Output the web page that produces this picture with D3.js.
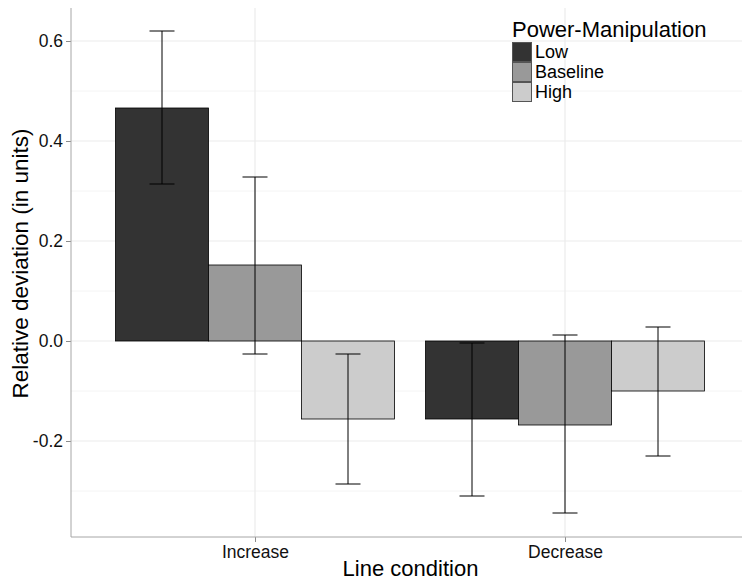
<!DOCTYPE html>
<html>
<head>
<meta charset="utf-8">
<script src="https://cdn.jsdelivr.net/npm/d3@7"></script>
<style>
  body { margin: 0; background: #fff; }
  text { font-family: "Liberation Sans", Arial, sans-serif; }
</style>
</head>
<body>
<div id="chart"></div>
<script>
// chart values
var conditions = ["Increase", "Decrease"];
var levels = ["Low", "Baseline", "High"];
var means = {
    Low:      [0.466, -0.156],
    Baseline: [0.152, -0.168],
    High:     [-0.156, -0.100]
};
var upper = {
    Low:      [0.620, -0.004],
    Baseline: [0.328, 0.012],
    High:     [-0.026, 0.028]
};
var lower = {
    Low:      [0.314, -0.310],
    Baseline: [-0.026, -0.344],
    High:     [-0.286, -0.230]
};
var yTicks = [-0.2, 0.0, 0.2, 0.4, 0.6];
var yMinor = [-0.3, -0.1, 0.1, 0.3, 0.5];

var colors = { Low: "#333333", Baseline: "#999999", High: "#cccccc" };

var width = 742, height = 581;
var panelLeft = 71, panelRight = 742, panelTop = 8, panelBottom = 537;

var svg = d3.select("#chart")
    .append("svg")
    .attr("width", width)
    .attr("height", height);

var y = d3.scaleLinear()
    .domain([-0.392, 0.666])
    .range([panelBottom, panelTop]);

var x = d3.scalePoint()
    .domain(conditions)
    .range([255, 565]);

var step = 310;
var xSub = d3.scaleBand()
    .domain(levels)
    .range([-0.45 * step, 0.45 * step]);

// grid lines
svg.selectAll(".minor")
    .data(yMinor)
    .enter().append("line")
    .attr("x1", panelLeft).attr("x2", panelRight)
    .attr("y1", d => y(d)).attr("y2", d => y(d))
    .attr("stroke", "#f4f4f4")
    .attr("stroke-width", 1);

svg.selectAll(".major")
    .data(yTicks)
    .enter().append("line")
    .attr("x1", panelLeft).attr("x2", panelRight)
    .attr("y1", d => y(d)).attr("y2", d => y(d))
    .attr("stroke", "#ebebeb")
    .attr("stroke-width", 1.2);

svg.selectAll(".vmajor")
    .data(conditions)
    .enter().append("line")
    .attr("x1", d => x(d)).attr("x2", d => x(d))
    .attr("y1", panelTop).attr("y2", panelBottom)
    .attr("stroke", "#ebebeb")
    .attr("stroke-width", 1.2);

// bars
var rows = [];
levels.forEach(function(lv) {
    conditions.forEach(function(c, i) {
        rows.push({ level: lv, cond: c, mean: means[lv][i], hi: upper[lv][i], lo: lower[lv][i] });
    });
});

svg.selectAll(".bar")
    .data(rows)
    .enter().append("rect")
    .attr("x", d => x(d.cond) + xSub(d.level))
    .attr("width", xSub.bandwidth())
    .attr("y", d => y(Math.max(0, d.mean)))
    .attr("height", d => Math.abs(y(d.mean) - y(0)))
    .attr("fill", d => colors[d.level])
    .attr("stroke", "#000")
    .attr("stroke-width", 0.8);

// error bars
var cap = 12.5;
var err = svg.selectAll(".err")
    .data(rows)
    .enter().append("g")
    .attr("transform", d => "translate(" + (x(d.cond) + xSub(d.level) + xSub.bandwidth() / 2) + ",0)");

err.append("line")
    .attr("x1", 0).attr("x2", 0)
    .attr("y1", d => y(d.hi)).attr("y2", d => y(d.lo))
    .attr("stroke", "#000").attr("stroke-width", 1);
err.append("line")
    .attr("x1", -cap).attr("x2", cap)
    .attr("y1", d => y(d.hi)).attr("y2", d => y(d.hi))
    .attr("stroke", "#000").attr("stroke-width", 1);
err.append("line")
    .attr("x1", -cap).attr("x2", cap)
    .attr("y1", d => y(d.lo)).attr("y2", d => y(d.lo))
    .attr("stroke", "#000").attr("stroke-width", 1);

// axes
var yAxis = svg.append("g")
    .attr("transform", "translate(" + panelLeft + ",0)")
    .call(d3.axisLeft(y).tickValues(yTicks).tickFormat(d => d.toFixed(1)).tickSize(5).tickPadding(3));
var xAxis = svg.append("g")
    .attr("transform", "translate(0," + panelBottom + ")")
    .call(d3.axisBottom(x).tickSize(5).tickPadding(4));

[yAxis, xAxis].forEach(function(a) {
    a.select(".domain").remove();
    a.selectAll(".tick line").attr("stroke", "#8c8c8c");
    a.selectAll(".tick text")
        .attr("fill", "#111")
        .style("font-size", "17.5px");
});

svg.append("line")
    .attr("x1", panelLeft).attr("x2", panelLeft)
    .attr("y1", panelTop).attr("y2", panelBottom)
    .attr("stroke", "#a6a6a6");
svg.append("line")
    .attr("x1", panelLeft).attr("x2", panelRight)
    .attr("y1", panelBottom).attr("y2", panelBottom)
    .attr("stroke", "#a6a6a6");

// axis titles
svg.append("text")
    .attr("x", (panelLeft + panelRight) / 2 + 4)
    .attr("y", 576)
    .attr("text-anchor", "middle")
    .style("font-size", "22px")
    .text("Line condition");

svg.append("text")
    .attr("transform", "translate(28," + ((panelTop + panelBottom) / 2 - 9) + ") rotate(-90)")
    .attr("text-anchor", "middle")
    .style("font-size", "22.5px")
    .text("Relative deviation (in units)");

// legend
var legend = svg.append("g").attr("transform", "translate(512,0)");
legend.append("text")
    .attr("x", 0).attr("y", 37)
    .style("font-size", "22px")
    .text("Power-Manipulation");

var keys = legend.selectAll(".key")
    .data(levels)
    .enter().append("g")
    .attr("transform", (d, i) => "translate(0," + (42 + i * 20) + ")");
keys.append("rect")
    .attr("x", 0.5).attr("y", 0.5)
    .attr("width", 19).attr("height", 19)
    .attr("fill", d => colors[d])
    .attr("stroke", "#555")
    .attr("stroke-width", 1);
keys.append("text")
    .attr("x", 23).attr("y", 16)
    .style("font-size", "18px")
    .text(d => d);
</script>
</body>
</html>
